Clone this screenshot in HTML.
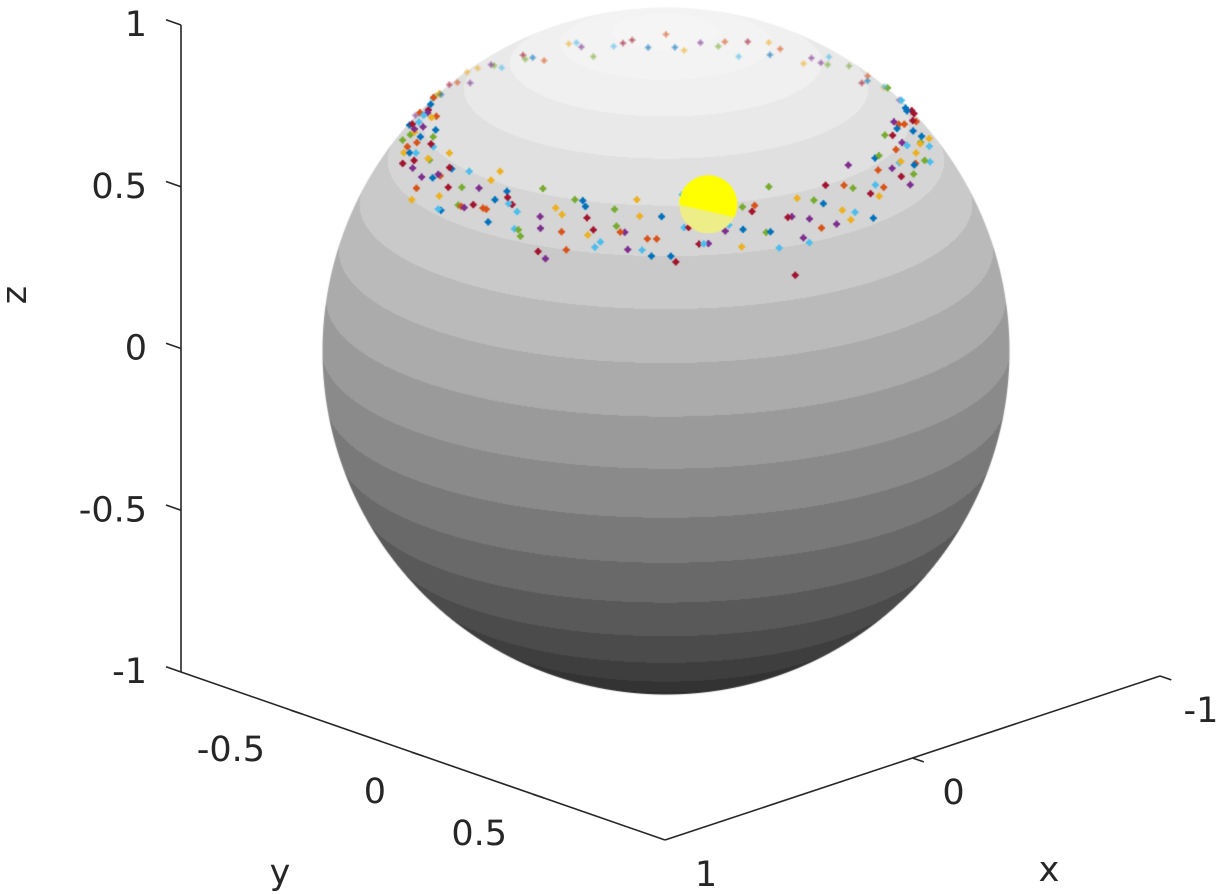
<!DOCTYPE html>
<html><head><meta charset="utf-8"><style>
html,body{margin:0;padding:0;background:#fff;}
#wrap{position:relative;width:1221px;height:894px;overflow:hidden;}
canvas,svg{position:absolute;left:0;top:0;}
text{font-family:"DejaVu Sans","Liberation Sans",sans-serif;font-size:35px;fill:#262626;}
</style></head><body>
<div id="wrap">
<canvas id="cv" width="1221" height="894"></canvas>
<svg id="ax" width="1221" height="894"></svg>
</div>
<script>
// ---- data ----
const zTicks = [-1, -0.5, 0, 0.5, 1];
const zTickLabels = ["-1", "-0.5", "0", "0.5", "1"];
const yTicks = [-0.5, 0, 0.5];
const yTickLabels = ["-0.5", "0", "0.5"];
const xTicks = [-1, 0, 1];
const xTickLabels = ["-1", "0", "1"];
const pointLon = [3,7,12,14,18,22,25,29,31,36,39,42,45,49,52,55,58,61,64,66,70,73,75,78,81,84,86,88,91,94,97,99,102,105,108,110,113,116,119,121,124,127,130,133,135,138,141,144,147,150,152,155,158,160,163,166,169,172,174,177,180,183,186,189,192,195,198,201,204,207,210,214,218,222,226,230,234,238,242,246,250,254,258,262,266,270,274,278,282,286,290,294,298,302,306,310,314,318,322,326,330,334,338,342,346,350,354,357,60,68,76,83,93,100,107,115,123,128,137,145,33,47,57,72,95,117,132,140,156,26,20,9,165,171,176,179,184,5,2,356,10,16,148,153,112,86,64,
  1,4,6,8,11,13,15,17,19,21,24,27,35,38,41,44,48,51,54,59,62,67,69,74,77,79,82,85,89,92,96,98,101,104,106,109,111,114,118,122,125,129,131,134,136,139,143,146,151,154,157,161,164,167,168,170,173,175,178,181,182,185,187,190,200,212,224,236,248,260,272,284,296,308,320,332,344,352];
const pointLat = [44,47,42,45,48,43,41,46,44,40,47,43,39,45,42,38,44,41,47,36,43,40,46,42,38,44,41,35,43,39,46,40,44,37,42,45,39,43,41,46,38,42,44,40,47,43,39,45,41,44,42,46,40,43,45,41,47,43,40,45,42,44,46,41,43,47,40,44,42,45,41,43,46,40,44,42,45,43,41,46,44,40,43,45,42,47,41,44,43,40,46,42,45,41,44,43,47,40,42,45,43,41,46,44,42,45,43,40,37,39,41,38,36,40,39,34,38,42,40,37,41,38,40,44,37,35,42,39,36,43,40,39,45,41,48,43,46,42,40,44,47,41,39,42,45,47,31,42,
  46,42,48,40,44,47,41,45,43,39,46,42,41,37,44,40,38,43,36,41,39,44,37,40,42,38,41,36,39,43,37,41,38,40,44,36,42,39,37,41,43,38,40,45,39,42,37,44,41,38,43,40,46,42,39,44,41,47,43,40,45,42,46,44,47,45,43,46,44,42,45,47,43,46,44,42,45,43];
const seriesColors = ["#0072BD","#D95319","#EDB120","#7E2F8E","#77AC30","#4DBEEE","#A2142F"];
const markerLon = [80], markerLat = [45];

// ---- projection ----
const cx = 666, cy = 351, R = 344, el = 20*Math.PI/180;
const ce = Math.cos(el), se = Math.sin(el);
function project(lon, lat){
  const L = lon*Math.PI/180, P = lat*Math.PI/180;
  const a = Math.cos(P)*Math.cos(L), b = Math.cos(P)*Math.sin(L), Z = Math.sin(P);
  return {x: cx + R*a, y: cy - R*(-b*se + Z*ce), w: b*ce + Z*se};
}

const cv = document.getElementById('cv');
const ctx = cv.getContext('2d');
const img = ctx.createImageData(1221, 894);
for (let py = 0; py < 894; py++) {
  for (let px = 0; px < 1221; px++) {
    const u = (px + 0.5 - cx)/R, v = (cy - py - 0.5)/R;
    const r2 = u*u + v*v;
    const i = (py*1221 + px)*4;
    if (r2 > 1) { img.data[i]=255; img.data[i+1]=255; img.data[i+2]=255; img.data[i+3]=255; continue; }
    const w = Math.sqrt(1 - r2);
    const Z = Math.max(-1, Math.min(1, v*ce + w*se));
    const lat = Math.asin(Z)*180/Math.PI;
    const band = Math.floor((lat + 90)/9);
    const zb = Math.sin(((band + 1)*9 - 90)*Math.PI/180);
    const g = (zb + 1)/2;
    let c = 0.12 + 0.84*g;
    const edge = Math.min(1, (1 - Math.sqrt(r2))*R);
    c = c*edge + 1*(1 - edge);
    const val = Math.round(Math.min(1, c)*255);
    img.data[i]=val; img.data[i+1]=val; img.data[i+2]=val; img.data[i+3]=255;
  }
}
ctx.putImageData(img, 0, 0);

function star(x, y){
  ctx.beginPath(); ctx.arc(x, y, 2.6, 0, 2*Math.PI); ctx.fill();
  ctx.fillRect(x-3.5, y-1, 7, 2); ctx.fillRect(x-1, y-3.5, 2, 7);
}
for (let k = 0; k < Math.min(pointLon.length, pointLat.length); k++) {
  const p = project(pointLon[k], pointLat[k]);
  ctx.globalAlpha = p.w > 0 ? 1 : 0.3;
  ctx.fillStyle = seriesColors[k % seriesColors.length];
  star(p.x, p.y);
}
ctx.globalAlpha = 1;
const m = project(markerLon[0], markerLat[0]);
ctx.fillStyle = "#eeee88";
ctx.beginPath(); ctx.arc(m.x, m.y, 29, 0, 2*Math.PI); ctx.fill();
ctx.save();
ctx.beginPath(); ctx.moveTo(m.x-40, m.y-40); ctx.lineTo(m.x+40, m.y-40); ctx.lineTo(m.x+40, m.y+16); ctx.lineTo(m.x-40, m.y-2); ctx.closePath(); ctx.clip();
ctx.fillStyle = "#ffff00";
ctx.beginPath(); ctx.arc(m.x, m.y, 29, 0, 2*Math.PI); ctx.fill();
ctx.restore();

// ---- axes ----
const svg = document.getElementById('ax');
const NS = "http://www.w3.org/2000/svg";
function line(x1,y1,x2,y2,name){
  const l = document.createElementNS(NS,'line');
  l.setAttribute('x1',x1); l.setAttribute('y1',y1); l.setAttribute('x2',x2); l.setAttribute('y2',y2);
  l.setAttribute('stroke','#262626'); l.setAttribute('stroke-width','1.6');
  
  
  svg.appendChild(l);
}
function text(x,y,s,anchor,name,rot){
  const t = document.createElementNS(NS,'text');
  t.setAttribute('x',x); t.setAttribute('y',y); t.setAttribute('text-anchor',anchor);
  t.setAttribute('dominant-baseline','central');
  if (rot) t.setAttribute('transform','rotate(-90 '+x+' '+y+')');
  t.textContent = s;
  
  
  svg.appendChild(t);
}
const zX = 181, zTop = 25, zBot = 672;
function zToY(z){ return zBot - (z + 1)/2*(zBot - zTop); }
line(zX, zTop, zX, zBot, 'z-axis-line');
zTicks.forEach((z,i)=>{ const y = zToY(z); line(zX, y, zX-15, y-5.2, 'z-tick'); text(147, y, zTickLabels[i], 'end', 'z-tick-label'); });
text(15, 295, 'z', 'middle', 'z-axis-title', true);
const yA = [181,672], yB = [665,840];
function yPos(v){ const f = (v + 1)/2; return [yA[0] + f*(yB[0]-yA[0]), yA[1] + f*(yB[1]-yA[1])]; }
line(yA[0], yA[1], yB[0], yB[1], 'y-axis-line');
yTicks.forEach((v,i)=>{ const p = yPos(v); line(p[0], p[1], p[0]-11.3, p[1]-3.7, 'y-tick'); text(p[0]-37, p[1]+36, yTickLabels[i], 'end', 'y-tick-label'); });
text(280, 873, 'y', 'middle', 'y-axis-title');
const xA = [665,840], xB = [1160,676];
function xPos(v){ const f = (1 - v)/2; return [xA[0] + f*(xB[0]-xA[0]), xA[1] + f*(xB[1]-xA[1])]; }
line(xA[0], xA[1], xB[0], xB[1], 'x-axis-line');
xTicks.forEach((v,i)=>{ const p = xPos(v); if (v !== 1) line(p[0], p[1], p[0]+11.3, p[1]+3.9, 'x-tick'); text(p[0]+41, p[1]+35, xTickLabels[i], 'middle', 'x-tick-label'); });
text(1049, 870, 'x', 'middle', 'x-axis-title');
</script>
</body></html>
